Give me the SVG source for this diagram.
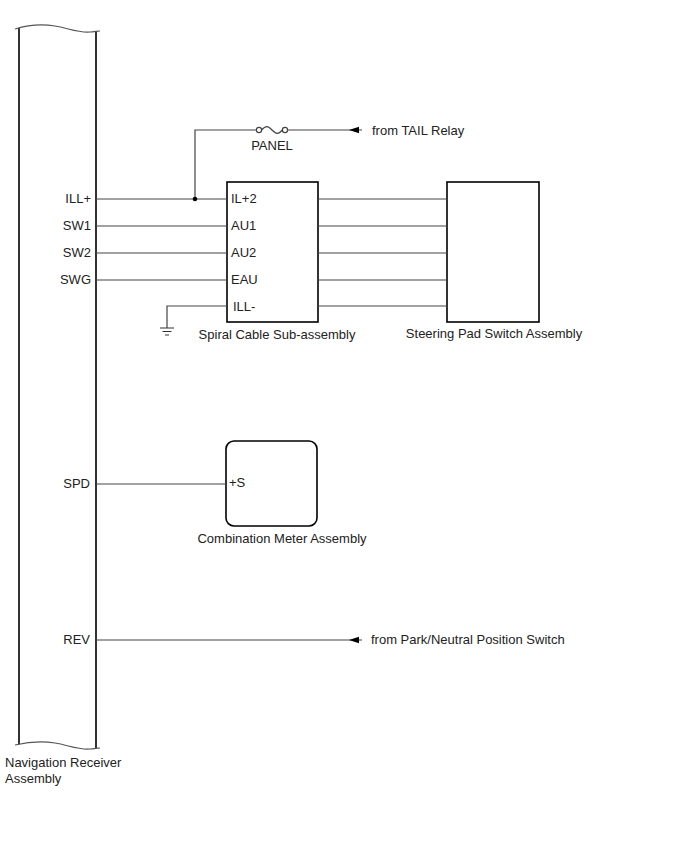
<svg xmlns="http://www.w3.org/2000/svg" width="688" height="852" viewBox="0 0 688 852">
<defs>
<style>
.t{font-family:"Liberation Sans",Arial,sans-serif;font-size:13px;fill:#222}
.w{stroke:#444;stroke-width:1.2;fill:none}
.b{stroke:#000;stroke-width:1.6;fill:#fff}
.r{text-anchor:end}
.m{text-anchor:middle}
.a{fill:#000}
</style>
</defs>
<rect width="688" height="852" fill="#fff"/>

<g id="nav">
<path d="M19,28 L19,744 M96,31 L96,748" stroke="#000" stroke-width="1.6" fill="none"/>
<path d="M15,29 C28,25 42,24 55,26 C68,28 78,33 90,32 C94,32 97,31 100,31" stroke="#555" stroke-width="1.2" fill="none"/>
<path d="M15,745 C28,742 42,741 55,743 C68,745 78,750 90,749 C94,749 97,748 100,748" stroke="#555" stroke-width="1.2" fill="none"/>
<text class="t r" x="91" y="203">ILL+</text>
<text class="t r" x="91" y="230">SW1</text>
<text class="t r" x="91" y="257">SW2</text>
<text class="t r" x="91" y="284">SWG</text>
<text class="t r" x="90" y="488">SPD</text>
<text class="t r" x="90" y="644">REV</text>
<text class="t" x="5" y="767">Navigation Receiver</text>
<text class="t" x="5" y="783">Assembly</text>
</g>

<g id="spiral">
<rect class="b" x="227" y="182" width="91" height="140"/>
<text class="t" x="231" y="203">IL+2</text>
<text class="t" x="231" y="230">AU1</text>
<text class="t" x="231" y="257">AU2</text>
<text class="t" x="231" y="284">EAU</text>
<text class="t" x="233" y="311">ILL-</text>
<text class="t m" x="277" y="339">Spiral Cable Sub-assembly</text>
</g>

<g id="steering">
<rect class="b" x="447" y="182" width="92" height="140"/>
<text class="t m" x="494" y="338">Steering Pad Switch Assembly</text>
</g>

<g id="meter">
<rect class="b" x="226" y="441" width="91" height="85" rx="8"/>
<text class="t" x="229" y="487">+S</text>
<text class="t m" x="282" y="543">Combination Meter Assembly</text>
</g>

<g id="fuse">
<circle cx="259" cy="130" r="2.6" fill="#fff" stroke="#444" stroke-width="1.2"/>
<circle cx="285" cy="130" r="2.6" fill="#fff" stroke="#444" stroke-width="1.2"/>
<path d="M261.6,130 C266,125 268,126 272,130 C276,134 278,135 282.4,130" stroke="#444" stroke-width="1.2" fill="none"/>
<text class="t m" x="272" y="150">PANEL</text>
</g>

<g id="sources">
<text class="t" x="372" y="135">from TAIL Relay</text>
<text class="t" x="371" y="644">from Park/Neutral Position Switch</text>
</g>

<g id="ground">
<path d="M160,328 L174,328 M162.5,331.5 L171.5,331.5 M165,335 L169,335" stroke="#333" stroke-width="1.2"/>
</g>

<g id="connectors">
<path class="w" d="M96,199 L227,199 M96,226 L227,226 M96,253 L227,253 M96,280 L227,280"/>
<path class="w" d="M318,199 L447,199 M318,226 L447,226 M318,253 L447,253 M318,280 L447,280 M318,306 L447,306"/>
<path class="w" d="M227,306 L167,306 L167,328"/>
<path class="w" d="M195,199 L195,130 L256.4,130"/>
<path class="w" d="M287.6,130 L362,130"/>
<polygon class="a" points="349,130 359,126.8 359,133.2"/>
<circle cx="195" cy="199" r="2.3" fill="#000"/>
<path class="w" d="M96,484 L226,484"/>
<path class="w" d="M96,640 L362,640"/>
<polygon class="a" points="349,640 359,636.8 359,643.2"/>
</g>
</svg>
